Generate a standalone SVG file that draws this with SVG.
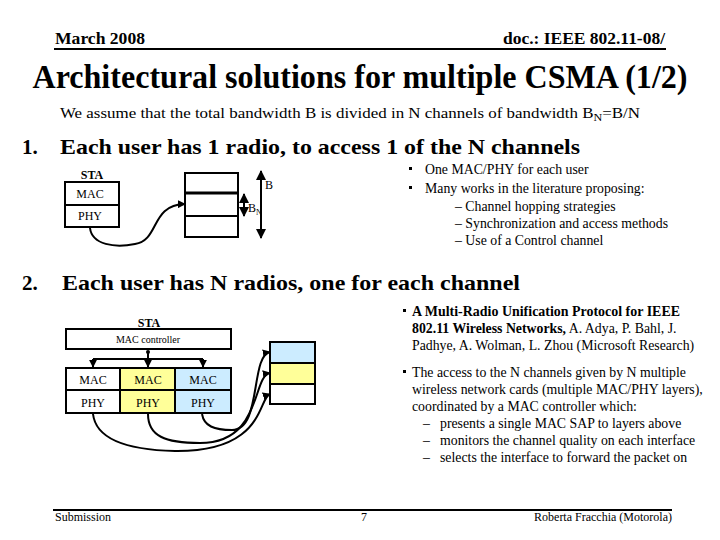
<svg xmlns="http://www.w3.org/2000/svg" width="720" height="540" viewBox="0 0 720 540">
<defs>
<style>
text{font-family:'Liberation Serif','DejaVu Serif',serif;fill:#000}
.b{font-weight:bold}
.box{fill:#fff;stroke:#000;stroke-width:2}
.yel{fill:#FFFF99;stroke:#000;stroke-width:2}
.blu{fill:#CCECFF;stroke:#000;stroke-width:2}
.ln{stroke:#000;stroke-width:2;fill:none}
.cv{stroke:#000;stroke-width:2;fill:none;marker-end:url(#ah)}
.t12{font-size:12px}
.t14{font-size:13.8px}
.bul{fill:#000}
</style>
<marker id="ah" viewBox="0 0 10 10" refX="9" refY="5" markerWidth="4" markerHeight="4" orient="auto" markerUnits="strokeWidth">
<path d="M0,0 L10,5 L0,10 z" fill="#000"/>
</marker>
<marker id="ah2" viewBox="0 0 10 10" refX="9" refY="5" markerWidth="5" markerHeight="5" orient="auto-start-reverse" markerUnits="strokeWidth">
<path d="M0,0 L10,5 L0,10 z" fill="#000"/>
</marker>
</defs>
<rect width="720" height="540" fill="#fff"/>
<g font-family="Liberation Serif, serif">

<g id="header">
<text x="55" y="44" class="b" font-size="16" textLength="90" lengthAdjust="spacingAndGlyphs">March 2008</text>
<text x="665" y="44" class="b" font-size="16" text-anchor="end" textLength="162" lengthAdjust="spacingAndGlyphs">doc.: IEEE 802.11-08/</text>
<line x1="54" y1="49" x2="666" y2="49" stroke="#000" stroke-width="2"/>
</g>

<text x="360" y="88" class="b" font-size="33" text-anchor="middle" textLength="655" lengthAdjust="spacingAndGlyphs">Architectural solutions for multiple CSMA (1/2)</text>
<text x="60" y="118" font-size="14" textLength="580" lengthAdjust="spacingAndGlyphs">We assume that the total bandwidth B is divided in N channels of bandwidth B<tspan font-size="10" dy="3">N</tspan><tspan dy="-3">=B/N</tspan></text>

<text x="22" y="154" class="b" font-size="21">1.</text>
<text x="60" y="154" class="b" font-size="21" textLength="520" lengthAdjust="spacingAndGlyphs">Each user has 1 radio, to access 1 of the N channels</text>

<g id="sta1">
<text x="92" y="179" class="b t12" text-anchor="middle">STA</text>
<rect x="65" y="182" width="54" height="23" class="box"/>
<rect x="65" y="205" width="54" height="22" class="box"/>
<text x="90" y="198" class="t12" text-anchor="middle">MAC</text>
<text x="90" y="220" class="t12" text-anchor="middle">PHY</text>
</g>

<g id="channels1">
<rect x="185" y="173" width="53" height="64" class="box"/>
<line x1="185" y1="193" x2="238" y2="193" stroke="#000" stroke-width="3"/>
<line x1="185" y1="216" x2="238" y2="216" stroke="#000" stroke-width="2"/>
</g>

<g id="bw1">
<line x1="261" y1="171" x2="261" y2="238" class="ln" marker-start="url(#ah2)" marker-end="url(#ah2)" stroke-width="1.5"/>
<text x="265" y="189" class="t12">B</text>
<line x1="244" y1="194" x2="244" y2="216" class="ln" marker-start="url(#ah2)" marker-end="url(#ah2)" stroke-width="1.5"/>
<text x="248" y="212" class="t12">B<tspan font-size="8" dy="3">N</tspan></text>
</g>

<g id="connectors1">
<path d="M90,228 C92,245 115,248 135,244 C160,240 150,205 185,204" class="cv"/>
</g>

<g id="notes1" class="t14">
<rect x="409" y="167" width="3" height="3" class="bul"/>
<text x="425" y="174">One MAC/PHY  for each user</text>
<rect x="409" y="186" width="3" height="3" class="bul"/>
<text x="425" y="193">Many works in the literature proposing:</text>
<text x="455" y="211">– Channel hopping strategies</text>
<text x="455" y="228">– Synchronization and access methods</text>
<text x="455" y="245">– Use of a Control channel</text>
</g>

<text x="22" y="290" class="b" font-size="21">2.</text>
<text x="62" y="290" class="b" font-size="21" textLength="458" lengthAdjust="spacingAndGlyphs">Each user has N radios, one for each channel</text>

<g id="sta2">
<text x="149" y="327" class="b t12" text-anchor="middle">STA</text>
<rect x="66" y="329" width="165" height="20" class="box"/>
<text x="148" y="343" font-size="10" text-anchor="middle">MAC controller</text>
</g>

<g id="radio1">
<rect x="66" y="368" width="54" height="22" class="box"/>
<rect x="66" y="390" width="54" height="23" class="box"/>
<text x="93" y="384" class="t12" text-anchor="middle">MAC</text>
<text x="93" y="407" class="t12" text-anchor="middle">PHY</text>
</g>
<g id="radio2">
<rect x="120" y="368" width="55" height="22" class="yel"/>
<rect x="120" y="390" width="55" height="23" class="yel"/>
<text x="148" y="384" class="t12" text-anchor="middle">MAC</text>
<text x="148" y="407" class="t12" text-anchor="middle">PHY</text>
</g>
<g id="radio3">
<rect x="175" y="368" width="56" height="22" class="blu"/>
<rect x="175" y="390" width="56" height="23" class="blu"/>
<text x="203" y="384" class="t12" text-anchor="middle">MAC</text>
<text x="203" y="407" class="t12" text-anchor="middle">PHY</text>
</g>

<g id="channels2">
<rect x="270" y="342" width="45" height="21" class="blu"/>
<rect x="270" y="363" width="45" height="21" class="yel"/>
<rect x="270" y="384" width="45" height="20" class="box"/>
</g>

<g id="connectors2">
<circle cx="148" cy="352" r="2" fill="#000"/>
<path d="M148,352 V360" class="ln"/>
<path d="M93,359 H203" class="ln"/>
<path d="M93,359 V367" class="cv"/>
<path d="M148,359 V367" class="cv"/>
<path d="M203,359 V367" class="cv"/>
<path d="M202,414 C204,426 214,430 232,430 C262,430 250,356 270,352" class="cv"/>
<path d="M148,414 C148,436 165,443 200,443 C262,443 252,376 270,373" class="cv"/>
<path d="M93,414 C96,440 130,450 175,451 C265,452 258,398 270,394" class="cv"/>
</g>

<g id="notes2" class="t14">
<rect x="403" y="309" width="3" height="3" class="bul"/>
<text x="412" y="316" class="b" textLength="268" lengthAdjust="spacingAndGlyphs">A Multi-Radio Unification Protocol for IEEE</text>
<text x="412" y="333"><tspan class="b">802.11 Wireless Networks,</tspan> A. Adya, P. Bahl, J.</text>
<text x="412" y="350">Padhye, A. Wolman, L. Zhou (Microsoft Research)</text>
<rect x="403" y="370" width="3" height="3" class="bul"/>
<text x="412" y="377">The access to the N channels given by N multiple</text>
<text x="412" y="394">wireless network cards (multiple MAC/PHY layers),</text>
<text x="412" y="411">coordinated by a MAC controller which:</text>
<text x="423" y="428">–</text><text x="440" y="428">presents a single MAC SAP to layers above</text>
<text x="423" y="445">–</text><text x="440" y="445">monitors the channel quality on each interface</text>
<text x="423" y="462">–</text><text x="440" y="462">selects the interface to forward the packet on</text>
</g>

<g id="footer">
<line x1="53" y1="510" x2="672" y2="510" stroke="#000" stroke-width="2"/>
<text x="55" y="521" class="t12">Submission</text>
<text x="361" y="521" class="t12">7</text>
<text x="672" y="521" class="t12" text-anchor="end">Roberta Fracchia (Motorola)</text>
</g>
</g>
</svg>
